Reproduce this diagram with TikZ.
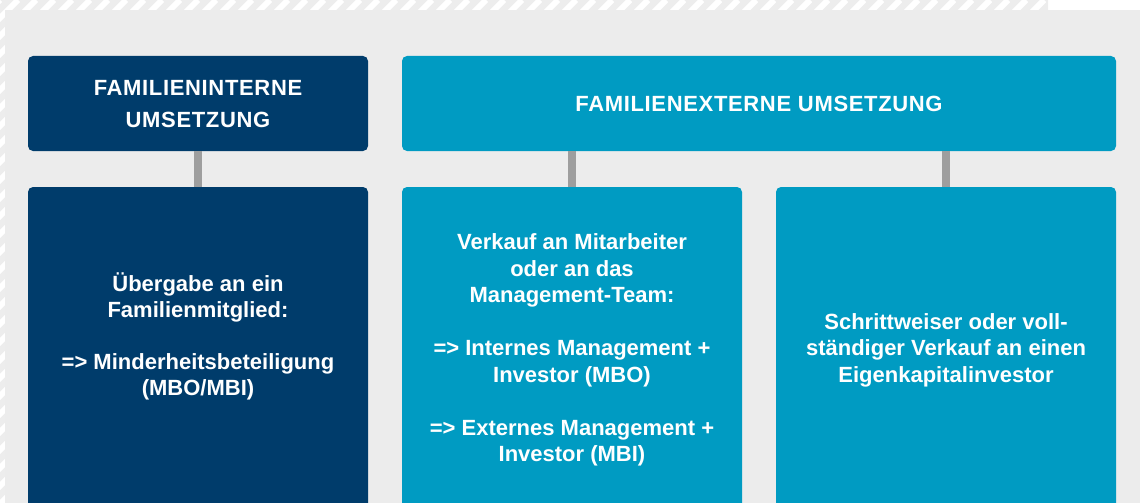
\documentclass[tikz,border=0pt]{standalone}
\usepackage{fontspec}
\setmainfont{Liberation Sans}
\definecolor{darkblue}{HTML}{003C6B}
\definecolor{cyanblue}{HTML}{009BC2}
\definecolor{panel}{HTML}{ECECEC}
\definecolor{conn}{HTML}{9E9E9E}
\definecolor{hatch}{HTML}{EDEDED}
\tikzset{
  box/.style={rounded corners=5pt, inner sep=0pt, draw=none},
  hdrtext/.style={text=white, align=center, inner sep=0pt,
    font=\bfseries\addfontfeature{LetterSpace=3}\fontsize{22}{32}\selectfont},
  bodytext/.style={text=white, align=center, inner sep=0pt,
    font=\bfseries\fontsize{22}{26}\selectfont},
  bodytextwide/.style={text=white, align=center, inner sep=0pt,
    font=\bfseries\fontsize{22}{26.5}\selectfont},
  connector/.style={draw=conn, line width=8pt},
}
\begin{document}
\begin{tikzpicture}[x=1pt,y=-1pt]
\useasboundingbox (0,0) rectangle (1140,503);
\clip (0,0) rectangle (1140,503);
% hatched margin
\fill[hatch] (0,0) -- (1043,0) arc[start angle=90,end angle=0,radius=5] -- (1048,10) -- (5,10) -- (5,503) -- (0,503) -- cycle;
\begin{scope}
  \clip (0,0) -- (1043,0) arc[start angle=90,end angle=0,radius=5] -- (1048,10) -- (5,10) -- (5,503) -- (0,503) -- cycle;
  \foreach \i in {-520,-502,...,1060}
    \draw[white, line width=6pt] (\i,520) -- (\i+520,0);
\end{scope}
% panel
\fill[panel] (5,10) rectangle (1140,503);
% header boxes
\node[box, fill=darkblue, minimum width=340pt, minimum height=95pt] (ha) at (198,103.5) {};
\node[box, fill=cyanblue, minimum width=714pt, minimum height=95pt] (hb) at (759,103.5) {};
% lower boxes
\node[box, fill=darkblue, minimum width=340pt, minimum height=330pt] (ba) at (198,352) {};
\node[box, fill=cyanblue, minimum width=340pt, minimum height=330pt] (bb) at (572,352) {};
\node[box, fill=cyanblue, minimum width=340pt, minimum height=330pt] (bc) at (946,352) {};
% connectors
\draw[connector] (ha.south) -- (ba.north);
\draw[connector] (bb.north |- hb.south) -- (bb.north);
\draw[connector] (bc.north |- hb.south) -- (bc.north);
% header texts
\node[hdrtext] (hat) at (198,104) {FAMILIENINTERNE\\UMSETZUNG};
\node[hdrtext] (hbt) at (759,104) {FAMILIENEXTERNE UMSETZUNG};
% body texts
\node[bodytext] (bat) at (198,336.5) {Übergabe an ein\\Familienmitglied:\\[26pt]=> Minderheitsbeteiligung\\(MBO/MBI)};
\node[bodytextwide] (bbt) at (572,350) {Verkauf an Mitarbeiter\\oder an das\\Management-Team:\\[26.5pt]=> Internes Management +\\Investor (MBO)\\[26.5pt]=> Externes Management +\\Investor (MBI)};
\node[bodytextwide] (bct) at (946,350) {Schrittweiser oder voll-\\ständiger Verkauf an einen\\Eigenkapitalinvestor};
\end{tikzpicture}
\end{document}
